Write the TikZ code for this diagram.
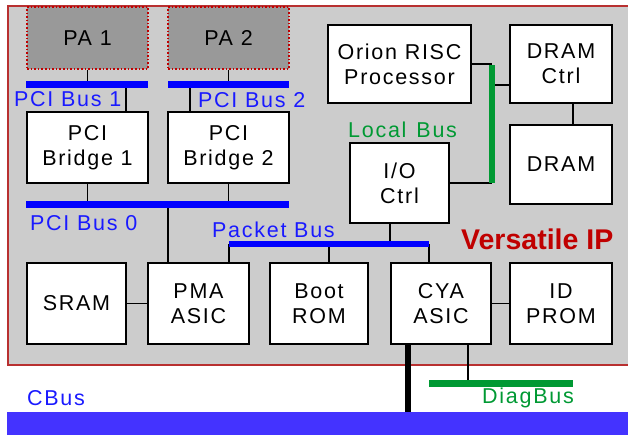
\documentclass[tikz,border=0pt]{standalone}
\usepackage{fontspec}
\setmainfont{Liberation Sans}
\newfontfamily\pixfont{Liberation Sans}[LetterSpace=8]
\definecolor{bggray}{HTML}{CCCCCC}
\definecolor{pagray}{HTML}{999999}
\definecolor{frame}{HTML}{B83030}
\definecolor{busblue}{HTML}{0000FF}
\definecolor{lblue}{HTML}{1A1AFF}
\definecolor{bgreen}{HTML}{009933}
\definecolor{vred}{HTML}{C00000}
\definecolor{cbuscol}{HTML}{4433FF}
\begin{document}
\begin{tikzpicture}[x=1pt,y=-1pt,
  box/.style={draw=black, line width=1.6pt, fill=white, inner sep=0pt, align=center,
    font=\pixfont\fontsize{21.5}{25}\selectfont},
  pabox/.style={box, fill=pagray, draw=vred, dotted, line width=1.4pt},
  wire/.style={draw=black, line width=1.5pt},
  pcibus/.style={draw=busblue, line width=7pt},
  gbus/.style={draw=bgreen, line width=6.5pt},
  lbl/.style={anchor=base west, inner sep=0pt, font=\pixfont\fontsize{21.5}{24}\selectfont}]
\useasboundingbox (0,0) rectangle (628,434);
% background
\fill[bggray] (8,6) rectangle (650,365);
\draw[frame, line width=1.5pt] (650,6) -- (8,6) -- (8,365) -- (650,365);
\fill[cbuscol] (7,412) rectangle (650,440);
\coordinate (cbx) at (408,412);
% PA boxes
\node[pabox, minimum width=121, minimum height=62] (pa1) at (87.5,38) {PA 1};
\node[pabox, minimum width=121, minimum height=62] (pa2) at (228.5,38) {PA 2};
% bridges
\node[box, minimum width=121, minimum height=71] (br1) at (87.5,147.5) {PCI\\Bridge 1};
\node[box, minimum width=121, minimum height=71] (br2) at (228.5,147.5) {PCI\\Bridge 2};
% right top
\node[box, minimum width=143, minimum height=78] (orion) at (399.5,64) {Orion RISC\\Processor};
\node[box, minimum width=102, minimum height=78] (dctrl) at (561,64) {DRAM\\Ctrl};
\node[box, minimum width=102, minimum height=79] (dram) at (561,164.5) {DRAM};
\node[box, minimum width=99, minimum height=80] (io) at (399.5,183) {I/O\\Ctrl};
% bottom row
\node[box, minimum width=99, minimum height=81] (sram) at (76.5,303.5) {SRAM};
\node[box, minimum width=101, minimum height=81] (pma) at (198.5,303.5) {PMA\\ASIC};
\node[box, minimum width=98, minimum height=81] (boot) at (319,303.5) {Boot\\ROM};
\node[box, minimum width=100, minimum height=81] (cya) at (441,303.5) {CYA\\ASIC};
\node[box, minimum width=102, minimum height=81] (idp) at (561,303.5) {ID\\PROM};
% PCI buses
\coordinate (b1w) at (26,84); \coordinate (b1e) at (148,84); \coordinate (b1t) at (126,84);
\coordinate (b2w) at (168,84); \coordinate (b2e) at (289,84); \coordinate (b2t) at (190,84);
\coordinate (b0w) at (26,204); \coordinate (b0e) at (289,204); \coordinate (b0p) at (168,204);
\draw[wire] (pa1.south) -- (pa1.south |- b1w);
\draw[wire] (pa2.south) -- (pa2.south |- b2w);
\draw[wire] (b1t) -- (b1t |- br1.north);
\draw[wire] (b2t) -- (b2t |- br2.north);
\draw[wire] (br1.south) -- (br1.south |- b0w);
\draw[wire] (br2.south) -- (br2.south |- b0w);
\draw[wire] (b0p) -- (b0p |- pma.north);
\draw[pcibus] (b1w) -- (b1e);
\draw[pcibus] (b2w) -- (b2e);
\draw[pcibus] (b0w) -- (b0e);
% local bus
\coordinate (lbt) at (492,65); \coordinate (lbb) at (492,183); \coordinate (lbd) at (492,85);
\coordinate (dcx) at (573,100);
\draw[wire] (orion.east) -- (orion.east -| lbt);
\draw[wire] (lbd) -- (lbd -| dctrl.west);
\draw[wire] (io.east) -- (io.east -| lbb);
\draw[wire] (dcx |- dctrl.south) -- (dcx |- dram.north);
\draw[gbus] (lbt) -- (lbb);
% packet bus
\coordinate (pkw) at (229,244); \coordinate (pke) at (429,244);
\coordinate (pkb) at (329,244); \coordinate (pki) at (390,244);
\draw[wire] (pkw) -- (pkw |- pma.north);
\draw[wire] (pkb) -- (pkb |- boot.north);
\draw[wire] (pke) -- (pke |- cya.north);
\draw[wire] (pki) -- (pki |- io.south);
\draw[draw=busblue, line width=6pt] (pkw) -- (pke);
% side links
\draw[wire] (sram.east) -- (pma.west);
\draw[wire] (cya.east) -- (idp.west);
% CBus link and diag bus
\draw[black, line width=6pt] (cbx |- cya.south) -- (cbx);
\coordinate (dgw) at (429,383); \coordinate (dge) at (573,383); \coordinate (dgc) at (468,383);
\draw[wire] (dgc |- cya.south) -- (dgc);
\draw[gbus, line width=7pt] (dgw) -- (dge);
% labels
\node[lbl, text=lblue] (l1) at (14,106) {PCI Bus 1};
\node[lbl, text=lblue] (l2) at (198,107) {PCI Bus 2};
\node[lbl, text=lblue] (l0) at (30,230) {PCI Bus 0};
\node[lbl, text=lblue] (lp) at (212,237) {Packet Bus};
\node[lbl, text=bgreen] (ll) at (348,137) {Local\hspace{10pt}Bus};
\node[lbl, text=lblue] (lc) at (27,405) {CBus};
\node[lbl, text=bgreen] (ld) at (482,403) {DiagBus};
\node[anchor=base west, inner sep=0pt, text=vred, font=\bfseries\fontsize{28.5}{32}\selectfont] (vip) at (461,249) {Versatile IP};
\end{tikzpicture}
\end{document}
